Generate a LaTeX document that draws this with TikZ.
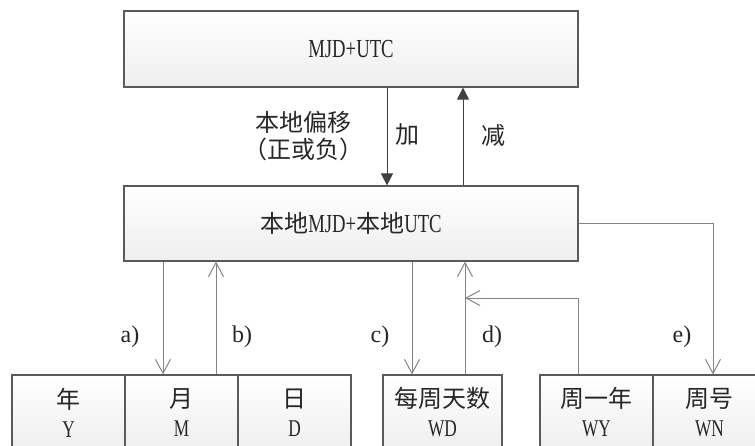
\documentclass[tikz,border=0pt]{standalone}
\usepackage{fontspec}
\setmainfont{Liberation Serif}
\newfontfamily\latn[FakeStretch=0.72]{Liberation Serif}
\newfontfamily\cjk{Noto Sans CJK SC}
\usetikzlibrary{arrows.meta}
\definecolor{boxline}{HTML}{5A5A5A}
\definecolor{lowline}{HTML}{858585}
\definecolor{topline}{HTML}{404040}
\tikzset{
  box/.style={draw=boxline, line width=1.2pt, top color=white, bottom color=gray!13,
    inner sep=0pt, align=center, anchor=center, text=black!85},
  bigbox/.style={box, minimum width=454pt, font=\fontsize{24}{29}\selectfont},
  smallbox/.style={box, minimum width=113pt, minimum height=75pt, font=\fontsize{24}{29}\selectfont},
  lbl/.style={inner sep=0pt, align=center, anchor=center, text=black!85, font=\fontsize{24}{27}\selectfont},
  toparrow/.style={draw=topline, line width=1pt, -{Triangle[length=12pt,width=12pt]}},
  lowarrow/.style={draw=lowline, line width=1pt, -{Straight Barb[length=14pt,width=15pt,line width=1pt]}}
}
\begin{document}
\begin{tikzpicture}[x=1pt,y=-1pt]
\useasboundingbox (0,0) rectangle (755,445);
\clip (0,0) rectangle (755,445);

% boxes
\node[bigbox, minimum height=76pt] (top) at (351,49) {{\latn\fontsize{26}{29}\selectfont MJD+UTC}};
\node[bigbox, minimum height=75pt] (mid) at (351,223.5)
  {{\cjk 本地}{\latn\fontsize{26}{29}\selectfont MJD+}{\cjk 本地}{\latn\fontsize{26}{29}\selectfont UTC}};

\node[smallbox] (Y) at (68.5,412.5) {{\cjk 年}\\{\latn Y}};
\node[smallbox] (M) at (181.5,412.5) {{\cjk 月}\\{\latn M}};
\node[smallbox] (D) at (294.5,412.5) {{\cjk 日}\\{\latn D}};
\node[smallbox, minimum width=119pt] (WD) at (442.5,412.5) {{\cjk 每周天数}\\{\latn WD}};
\node[smallbox] (WY) at (596.5,412.5) {{\cjk 周一年}\\{\latn WY}};
\node[smallbox] (WN) at (709.5,412.5) {{\cjk 周号}\\{\latn WN}};

% labels
\node[lbl] (off) at (303,136) {{\cjk 本地偏移}\\{\cjk （正或负）}};
\node[lbl] (add) at (407,135) {{\cjk 加}};
\node[lbl] (sub) at (493,135) {{\cjk 减}};
\node[lbl] (la) at (130,337) {a)};
\node[lbl] (lb) at (242,337) {b)};
\node[lbl] (lc) at (380,337) {c)};
\node[lbl] (ld) at (492,337) {d)};
\node[lbl] (le) at (682,337) {e)};

% x positions of connectors
\coordinate (xp) at (387,0);
\coordinate (xm) at (463,0);
\coordinate (xa) at (163,0);
\coordinate (xb) at (216,0);
\coordinate (xc) at (412,0);
\coordinate (xd) at (465,0);
\coordinate (xwy) at (578,298);
\coordinate (xe) at (713,0);

% top connectors
\draw[toparrow] (xp |- top.south) -- (xp |- mid.north);
\draw[toparrow] (xm |- mid.north) -- (xm |- top.south);

% lower connectors
\draw[lowarrow] (xa |- mid.south) -- (xa |- M.north);
\draw[lowarrow] (xb |- M.north) -- (xb |- mid.south);
\draw[lowarrow] (xc |- mid.south) -- (xc |- WD.north);
\draw[lowarrow] (xd |- WD.north) -- (xd |- mid.south);
\draw[lowarrow] (xwy |- WY.north) -- (xwy) -- (xd |- xwy);
\draw[lowarrow] (mid.east) -| (xe |- WN.north);
\end{tikzpicture}
\end{document}
